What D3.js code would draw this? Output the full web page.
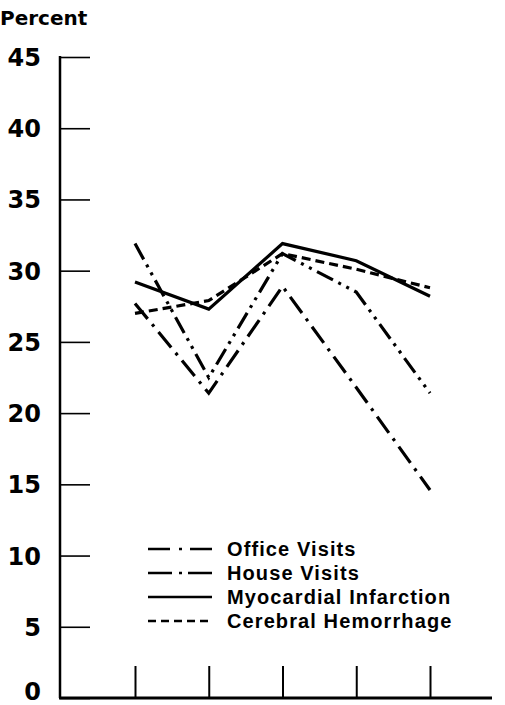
<!DOCTYPE html>
<html>
<head>
<meta charset="utf-8">
<script src="https://cdn.jsdelivr.net/npm/d3@7"></script>
<style>
  body { margin: 0; background: #fff; }
  svg { display: block; font-family: "Liberation Sans", Arial, sans-serif; }
</style>
</head>
<body>
<svg width="505" height="705"></svg>
<script>
// data
var periods = [0, 1, 2, 3, 4];
var yTicks = [0, 5, 10, 15, 20, 25, 30, 35, 40, 45];
var officeVisits = [31.9, 22.5, 31.2, 28.5, 21.4];
var houseVisits = [27.7, 21.4, 28.9, 21.8, 14.6];
var myocardial = [29.2, 27.3, 31.9, 30.7, 28.2];
var cerebral = [27.0, 27.9, 31.2, 30.1, 28.8];

var series = [
    {name: "Office Visits", values: officeVisits, dash: "18,6,3,6,3,6", key: "22,9,3,8"},
    {name: "House Visits", values: houseVisits, dash: "20,7,3,7", key: "24,7,3,6"},
    {name: "Myocardial Infarction", values: myocardial, dash: null, key: null},
    {name: "Cerebral Hemorrhage", values: cerebral, dash: "9,5", key: "8,5"}
];

var svg = d3.select('svg');

var x = d3.scaleLinear().domain([0, 4]).range([135, 430]);
var y = d3.scaleLinear().domain([0, 45]).range([698, 57]);

// y axis
var yAxis = svg.append('g')
    .attr('transform', 'translate(60,0)')
    .call(d3.axisRight(y).tickValues(yTicks).tickSize(30).tickFormat(''));
yAxis.select('.domain').remove();
yAxis.selectAll('.tick line').attr('stroke', '#000').attr('stroke-width', 1.6);

svg.append('line')
    .attr('x1', 60).attr('x2', 60)
    .attr('y1', y(45) - 1).attr('y2', y(0))
    .attr('stroke', '#000').attr('stroke-width', 2.5);

svg.selectAll('.ylab')
    .data(yTicks)
    .enter()
    .append('text')
    .attr('class', 'ylab')
    .attr('x', 41)
    .attr('y', function(d){ return d === 0 ? y(d) + 2 : y(d) + 9; })
    .attr('text-anchor', 'end')
    .attr('font-family', '"DejaVu Sans", sans-serif')
    .attr('font-size', 24)
    .attr('font-weight', 'bold')
    .text(function(d){ return d; });

svg.append('text')
    .attr('x', 0).attr('y', 25)
    .attr('font-family', '"DejaVu Sans", sans-serif')
    .attr('font-size', 20)
    .attr('font-weight', 'bold')
    .text('Percent');

// x axis
var xAxis = svg.append('g')
    .attr('transform', 'translate(0,' + y(0) + ')')
    .call(d3.axisTop(x).tickValues(periods).tickSize(32).tickFormat(''));
xAxis.select('.domain').remove();
xAxis.selectAll('.tick line').attr('stroke', '#000').attr('stroke-width', 2);

svg.append('line')
    .attr('x1', 59).attr('x2', 492)
    .attr('y1', y(0)).attr('y2', y(0))
    .attr('stroke', '#000').attr('stroke-width', 3);

// lines
var line = d3.line()
    .x(function(d, i){ return x(periods[i]); })
    .y(function(d){ return y(d); });

svg.selectAll('.series')
    .data(series)
    .enter()
    .append('path')
    .attr('class', 'series')
    .attr('d', function(d){ return line(d.values); })
    .attr('fill', 'none')
    .attr('stroke', '#000')
    .attr('stroke-width', 3.2)
    .attr('stroke-dasharray', function(d){ return d.dash; });

// legend
var legend = svg.selectAll('.legend')
    .data(series)
    .enter()
    .append('g')
    .attr('class', 'legend')
    .attr('transform', function(d, i){ return 'translate(148,' + (549 + i * 24) + ')'; });

legend.append('line')
    .attr('x1', 0).attr('x2', 64)
    .attr('stroke', '#000')
    .attr('stroke-width', 2.5)
    .attr('stroke-dasharray', function(d){ return d.key; });

legend.append('text')
    .attr('x', 79)
    .attr('y', 7)
    .attr('font-size', 20)
    .attr('font-weight', 'bold')
    .attr('letter-spacing', 1.1)
    .text(function(d){ return d.name; });
</script>
</body>
</html>
